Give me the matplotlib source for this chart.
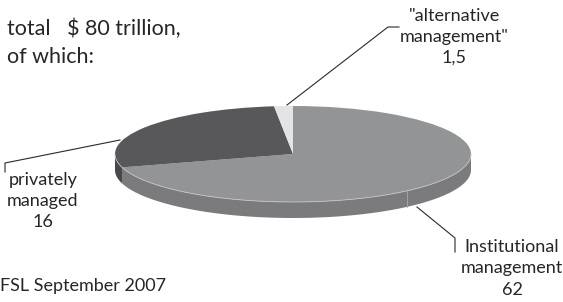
import numpy as np
import matplotlib
matplotlib.use('Agg')
import matplotlib.pyplot as plt

plt.rcParams['font.family'] = ['Lato', 'DejaVu Sans']

# label values, trillion $
names = [['Institutional', 'management'], ['privately', 'managed'], ['"alternative', 'management"']]
values = ['62', '16', '1,5']
# slice shares as drawn in the picture (percent of the disc)
shares = [70.5, 27.8, 1.7]
top_colors = ['#939496', '#58585a', '#e3e4e5']
side_colors = ['#7b7b7d', '#48484a', '#c8c8c8']
title_lines = ['total   $ 80 trillion,', 'of which:']
source_text = 'FSL September 2007'

W, H = 563, 302
fig = plt.figure(figsize=(W / 100, H / 100), dpi=100)

# tilted disc: centre, half axes and thickness in pixels
cx, cy, a, b, depth = 293, 154, 178, 48, 16
k = a / b
ycen = (H - cy) * k
dz = depth * k

ax = fig.add_axes([0, 0, 1, 1])

# side of the disc (front half only)
bounds = 90 - 360 * np.cumsum([0] + shares) / sum(shares)
for lo, hi, c in zip(bounds[1:], bounds[:-1], side_colors):
    t0, t1 = max(lo, -180), min(hi, 0)
    if t1 <= t0:
        continue
    th = np.radians(np.linspace(t0, t1, 120))
    xs = cx + a * np.cos(th)
    ys = ycen + a * np.sin(th)
    ax.fill(np.r_[xs, xs[::-1]], np.r_[ys, ys[::-1] - dz], color=c, lw=0)

ax.pie(shares, colors=top_colors, startangle=90, counterclock=False,
       center=(cx, ycen), radius=a, wedgeprops=dict(linewidth=0), frame=True)

# light rim and seam on the side
th = np.radians(np.linspace(-180, 0, 200))
ax.plot(cx + a * np.cos(th), ycen + a * np.sin(th), color='#c4c4c6', lw=0.6)
ts = np.radians(-50)
ax.plot([cx + a * np.cos(ts)] * 2, [ycen + a * np.sin(ts), ycen + a * np.sin(ts) - dz],
        color='#a8a8aa', lw=0.6)

ax.set_aspect('auto')
ax.set_xlim(0, W)
ax.set_ylim(0, H * k)
ax.axis('off')

# overlay in pixel coordinates for text and leader lines
ov = fig.add_axes([0, 0, 1, 1])
ov.set_xlim(0, W)
ov.set_ylim(H, 0)
ov.axis('off')
ov.patch.set_alpha(0)

tc = '#262626'
ov.text(7, 35, title_lines[0], fontsize=15.5, color=tc, va='baseline')
ov.text(7, 63, title_lines[1], fontsize=15.5, color=tc, va='baseline')
ov.text(0, 291, source_text, fontsize=13, color=tc, va='baseline')

label_pos = [(512, [252, 273, 295]), (43, [185, 206, 227]), (454, [21, 42, 63])]
for (x, ys), nm, v in zip(label_pos, names, values):
    for line, y in zip(nm + [v], ys):
        ov.text(x, y, line, fontsize=13, color=tc, ha='center', va='baseline')

leaders = [
    [(417, 207), (455, 238), (455, 252)],
    [(120, 140), (5, 163), (5, 172)],
    [(287, 105), (388, 27), (399, 27)],
]
for pts in leaders:
    px, py = zip(*pts)
    ov.plot(px, py, color='#2a2a2a', lw=0.8)

fig.savefig('out.png', dpi=100, facecolor='white')
